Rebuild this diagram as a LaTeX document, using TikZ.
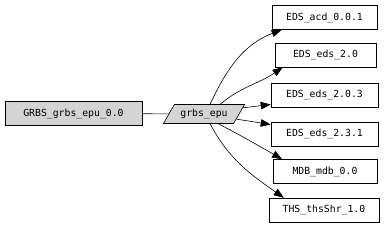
\documentclass[tikz,border=0pt]{standalone}
\usepackage{fontspec}
\setmonofont{DejaVu Sans Mono}
\usetikzlibrary{arrows.meta,shapes.geometric}

\begin{document}
\begin{tikzpicture}[x=1pt, y=1pt, line width=0.6pt,
    >={Triangle[length=10pt,width=7.5pt]},
    every node/.style={font=\ttfamily\fontsize{9.8}{12}\selectfont},
    pkgbox/.style={draw, rectangle, minimum height=24pt, inner sep=0pt},
    modbox/.style={draw, trapezium, trapezium left angle=60, trapezium right angle=120,
        fill=black!17, minimum height=19pt, minimum width=70pt, inner xsep=2pt}]
    \useasboundingbox (0, 0) rectangle (384, 228);

    % 左侧包与模块
    \node[pkgbox, fill=black!17, minimum width=137pt] (grbs) at (73.5, 114.5) {GRBS\_grbs\_epu\_0.0};
    \node[modbox] (epu) at (204, 114) {grbs\_epu};
    \draw (grbs) -- (epu);

    % 右侧依赖
    \node[pkgbox, minimum width=105pt] (acd) at (324.5, 210.5) {EDS\_acd\_0.0.1};
    \node[pkgbox, minimum width=101pt] (eds20) at (325.5, 173) {EDS\_eds\_2.0};
    \node[pkgbox, minimum width=107pt] (eds203) at (324.5, 133) {EDS\_eds\_2.0.3};
    \node[pkgbox, minimum width=107pt] (eds231) at (324.5, 94) {EDS\_eds\_2.3.1};
    \node[pkgbox, minimum width=104pt] (mdb) at (325, 56.5) {MDB\_mdb\_0.0};
    \node[pkgbox, minimum width=110pt] (ths) at (324, 18) {THS\_thsShr\_1.0};

    % 连线
    \draw[->] (epu.58) to[out=65, in=201] (acd.196);
    \draw[->] (epu.31) to[out=40, in=215] (eds20.196);
    \draw[->] (epu.9) -- (eds203.190);
    \draw[->] (epu.-9) -- (eds231.170);
    \draw[->] (epu.-34) to[out=-28, in=150] (mdb.164);
    \draw[->] (epu.-58) to[out=-62, in=145] (ths.163);
\end{tikzpicture}
\end{document}
